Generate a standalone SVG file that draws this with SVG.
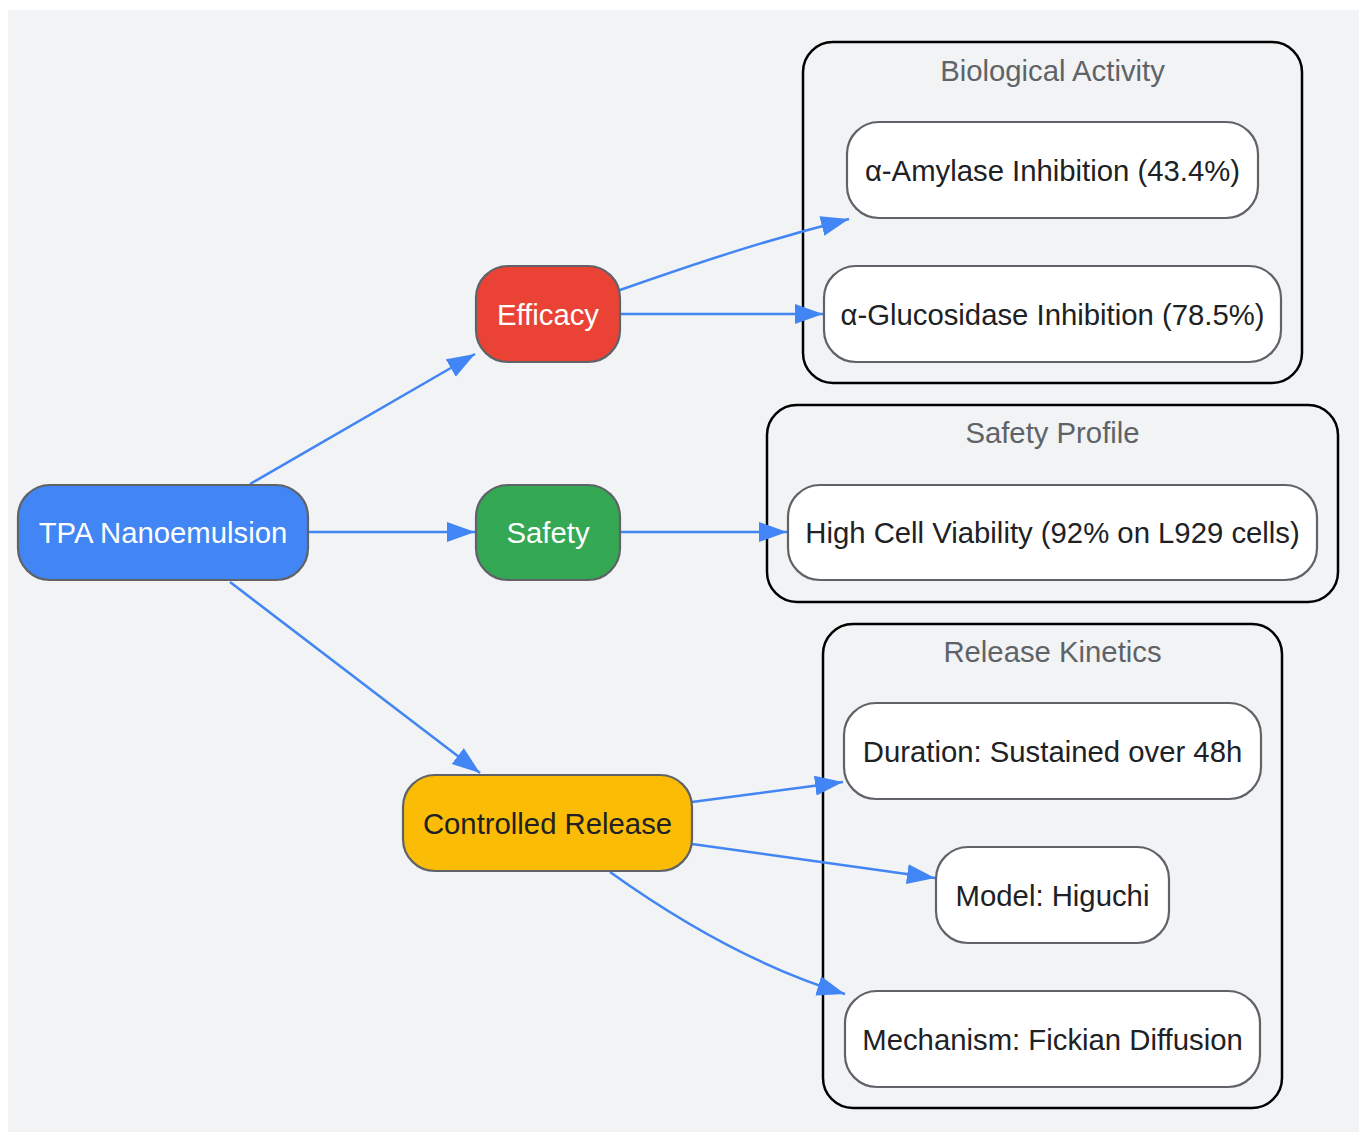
<svg xmlns="http://www.w3.org/2000/svg" width="1359" height="1132" viewBox="0 0 1359 1132">
<style>
text{font-family:"Liberation Sans",Arial,sans-serif;font-size:29.3px;text-anchor:middle}
.node rect{stroke:#5f6368;stroke-width:2.2}
.white rect{fill:#ffffff}
.dark{fill:#202124}
.light{fill:#ffffff}
.cluster rect{fill:#f1f3f5;stroke:#000;stroke-width:2.5}
.cluster text{fill:#5f6368}
.edge{fill:none;stroke:#4285F4;stroke-width:2.5;marker-end:url(#arr)}
</style>
<defs>
<marker id="arr" markerUnits="userSpaceOnUse" markerWidth="30" markerHeight="22" refX="28" refY="10" orient="auto">
<path d="M0,0 L28,10 L0,20 z" fill="#4285F4"/>
</marker>
</defs>
<rect x="8" y="10" width="1351" height="1122" fill="#f1f3f5"/>
<g id="cluster-bio" class="cluster">
<rect x="803" y="42" width="499" height="341" rx="30"/>
<text x="1052.5" y="81">Biological Activity</text>
</g>
<g id="cluster-safety" class="cluster">
<rect x="767" y="405" width="571" height="197" rx="30"/>
<text x="1052.5" y="443">Safety Profile</text>
</g>
<g id="cluster-release" class="cluster">
<rect x="823" y="624" width="459" height="484" rx="30"/>
<text x="1052.5" y="662">Release Kinetics</text>
</g>
<g id="connectors">
<path class="edge" d="M250,484 L475,354"/>
<path class="edge" d="M308,532 L475,532"/>
<path class="edge" d="M230,582 L480,773"/>
<path class="edge" d="M620,290 C700,262 760,242 849,219"/>
<path class="edge" d="M620,314 L823,314"/>
<path class="edge" d="M620,532 L787,532"/>
<path class="edge" d="M692,802 L843,782"/>
<path class="edge" d="M692,844 L935,878"/>
<path class="edge" d="M610,872 C670,915 750,965 845,994"/>
</g>
<g id="tpa" class="node">
<rect x="18" y="485" width="290" height="95" rx="32" fill="#4285F4"/>
<text class="light" x="163" y="543">TPA Nanoemulsion</text>
</g>
<g id="efficacy" class="node">
<rect x="476" y="266" width="144" height="96" rx="32" fill="#EA4335"/>
<text class="light" x="548" y="325">Efficacy</text>
</g>
<g id="safety" class="node">
<rect x="476" y="485" width="144" height="95" rx="32" fill="#34A853"/>
<text class="light" x="548" y="543">Safety</text>
</g>
<g id="controlled" class="node">
<rect x="403" y="775" width="289" height="96" rx="32" fill="#FBBC05"/>
<text class="dark" x="547.5" y="834">Controlled Release</text>
</g>
<g id="amylase" class="node white">
<rect x="847" y="122" width="411" height="96" rx="32"/>
<text class="dark" x="1052.5" y="181">α-Amylase Inhibition (43.4%)</text>
</g>
<g id="glucosidase" class="node white">
<rect x="824" y="266" width="457" height="96" rx="32"/>
<text class="dark" x="1052.5" y="325">α-Glucosidase Inhibition (78.5%)</text>
</g>
<g id="viability" class="node white">
<rect x="788" y="485" width="529" height="95" rx="32"/>
<text class="dark" x="1052.5" y="543">High Cell Viability (92% on L929 cells)</text>
</g>
<g id="duration" class="node white">
<rect x="844" y="703" width="417" height="96" rx="32"/>
<text class="dark" x="1052.5" y="762">Duration: Sustained over 48h</text>
</g>
<g id="model" class="node white">
<rect x="936" y="847" width="233" height="96" rx="32"/>
<text class="dark" x="1052.5" y="906">Model: Higuchi</text>
</g>
<g id="mechanism" class="node white">
<rect x="845" y="991" width="415" height="96" rx="32"/>
<text class="dark" x="1052.5" y="1050">Mechanism: Fickian Diffusion</text>
</g>
</svg>
